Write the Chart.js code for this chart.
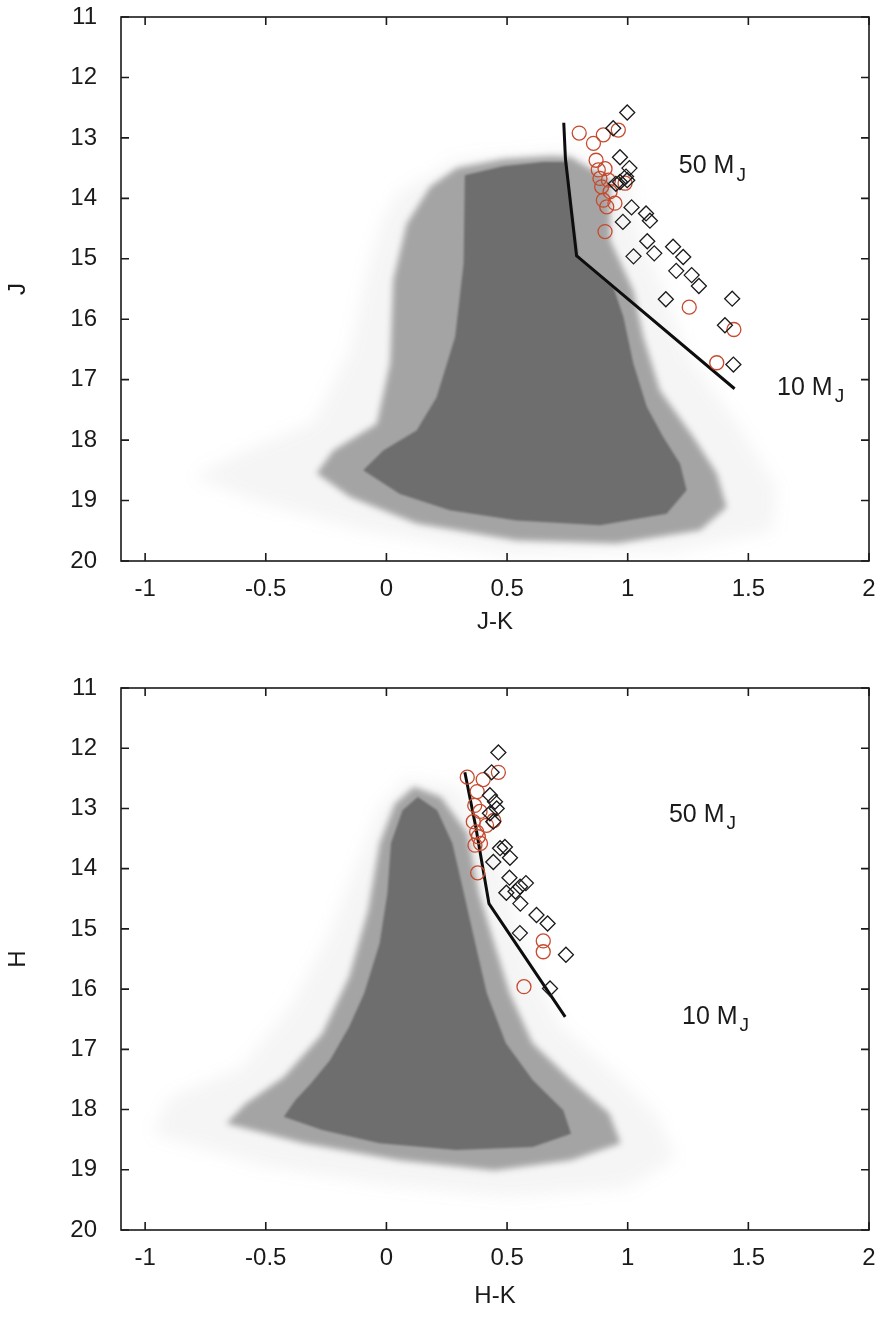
<!DOCTYPE html>
<html>
<head>
<meta charset="utf-8">
<script src="https://cdn.jsdelivr.net/npm/chart.js@4.4.1/dist/chart.umd.min.js"></script>
<style>
  body { margin: 0; background: #fff; }
  #wrap { position: relative; width: 884px; height: 1318px; }
  canvas { position: absolute; left: 0; }
  #cmdJK { top: 0; }
  #cmdHK { top: 655px; }
</style>
</head>
<body>
<div id="wrap">
  <canvas id="cmdJK" width="884" height="655"></canvas>
  <canvas id="cmdHK" width="884" height="663"></canvas>
</div>
<script>
// axis ticks shared by both panels
const xTicks = [-1, -0.5, 0, 0.5, 1, 1.5, 2];
const yTicks = [11, 12, 13, 14, 15, 16, 17, 18, 19, 20];
const massText = ['50', '10'];

// ---- J vs J-K ----
const jkDiamonds = [
  [0.998, 12.58], [0.940, 12.84], [0.968, 13.32], [1.007, 13.50], [0.993, 13.64],
  [0.968, 13.73], [0.951, 13.76], [0.998, 13.70], [1.016, 14.15], [1.076, 14.25],
  [0.980, 14.39], [1.092, 14.37], [1.081, 14.71], [1.024, 14.96], [1.110, 14.91],
  [1.188, 14.80], [1.230, 14.97], [1.201, 15.20], [1.265, 15.27], [1.295, 15.45],
  [1.158, 15.67], [1.433, 15.66], [1.403, 16.10], [1.438, 16.75]
];
const jkCircles = [
  [0.799, 12.92], [0.858, 13.09], [0.899, 12.95], [0.961, 12.87], [0.869, 13.37],
  [0.878, 13.53], [0.906, 13.51], [0.885, 13.67], [0.920, 13.70], [0.892, 13.81],
  [0.927, 13.89], [0.989, 13.75], [0.899, 14.03], [0.947, 14.08], [0.913, 14.14],
  [0.906, 14.55], [1.255, 15.80], [1.440, 16.17], [1.369, 16.72]
];
const jkTrack = [[0.735, 12.75], [0.742, 13.35], [0.788, 14.95], [0.812, 15.03], [1.443, 17.15]];
const jkLabelAt = [[1.212, 13.47], [1.619, 17.14]];

// field population, outlines of the sparse, medium and dense parts
const jkOuter = [
  [0.05, 13.9], [0.3, 13.35], [0.76, 13.2], [1.0, 13.6], [1.05, 14.6], [1.15, 15.5],
  [1.25, 16.6], [1.45, 17.7], [1.62, 18.8], [1.6, 19.5], [1.2, 19.85], [0.5, 19.9],
  [-0.1, 19.5], [-0.55, 19.0], [-0.8, 18.6], [-0.6, 18.2], [-0.3, 17.7], [-0.15, 16.5],
  [-0.08, 15.2], [-0.02, 14.4]
];
const jkHalo = [
  [0.181, 13.81], [0.291, 13.50], [0.484, 13.35], [0.678, 13.30], [0.761, 13.31],
  [0.927, 13.70], [0.927, 14.69], [1.023, 15.52], [1.065, 16.29], [1.134, 17.18],
  [1.272, 17.95], [1.369, 18.55], [1.410, 19.11], [1.300, 19.49], [0.954, 19.71],
  [0.540, 19.66], [0.125, 19.38], [-0.151, 18.94], [-0.289, 18.55], [-0.220, 18.17],
  [-0.040, 17.73], [0.015, 16.73], [0.028, 15.35], [0.084, 14.42]
];
const jkCore = [
  [0.325, 13.62], [0.484, 13.47], [0.650, 13.40], [0.747, 13.40], [0.761, 13.97],
  [0.795, 14.97], [0.940, 15.47], [0.982, 15.96], [1.023, 16.73], [1.079, 17.45],
  [1.147, 17.95], [1.217, 18.39], [1.244, 18.83], [1.161, 19.22], [0.885, 19.41],
  [0.540, 19.33], [0.263, 19.16], [0.056, 18.89], [-0.096, 18.50], [-0.013, 18.17],
  [0.125, 17.84], [0.208, 17.29], [0.285, 16.29], [0.320, 15.08]
];

// ---- H vs H-K ----
const hkDiamonds = [
  [0.464, 12.07], [0.436, 12.40], [0.429, 12.78], [0.450, 12.89], [0.457, 13.00],
  [0.429, 13.08], [0.443, 13.22], [0.471, 13.66], [0.491, 13.64], [0.443, 13.89],
  [0.512, 13.82], [0.510, 14.15], [0.578, 14.24], [0.554, 14.30], [0.497, 14.40],
  [0.535, 14.38], [0.555, 14.58], [0.622, 14.77], [0.668, 14.91], [0.553, 15.07],
  [0.744, 15.43], [0.678, 15.99]
];
const hkCircles = [
  [0.335, 12.48], [0.401, 12.52], [0.464, 12.40], [0.376, 12.72], [0.366, 12.95],
  [0.388, 13.05], [0.360, 13.22], [0.415, 13.28], [0.374, 13.39], [0.445, 13.20],
  [0.381, 13.47], [0.367, 13.61], [0.390, 13.58], [0.378, 14.07], [0.650, 15.20],
  [0.650, 15.38], [0.570, 15.96]
];
const hkTrack = [[0.325, 12.40], [0.370, 13.30], [0.425, 14.58], [0.741, 16.46]];
const hkLabelAt = [[1.171, 13.11], [1.225, 16.46]];

const hkOuter = [
  [0.08, 12.5], [0.3, 12.65], [0.45, 13.6], [0.52, 14.6], [0.6, 15.6], [0.72, 16.6],
  [0.92, 17.3], [1.12, 18.1], [1.2, 18.8], [1.0, 19.3], [0.5, 19.45], [0.0, 19.25],
  [-0.5, 18.95], [-0.97, 18.4], [-0.9, 17.8], [-0.6, 17.3], [-0.4, 16.3], [-0.25, 15.2],
  [-0.13, 14.0], [-0.03, 13.0]
];
const hkHalo = [
  [0.114, 12.64], [0.226, 12.81], [0.336, 13.41], [0.384, 14.41], [0.447, 15.24],
  [0.511, 16.07], [0.606, 16.90], [0.765, 17.51], [0.923, 18.06], [0.971, 18.56],
  [0.765, 18.84], [0.447, 19.01], [0.051, 18.84], [-0.345, 18.56], [-0.663, 18.23],
  [-0.583, 17.90], [-0.425, 17.46], [-0.266, 16.74], [-0.155, 15.80], [-0.076, 14.69],
  [-0.028, 13.58], [0.035, 12.92]
];
const hkCore = [
  [0.130, 12.81], [0.210, 13.03], [0.273, 13.58], [0.321, 14.41], [0.368, 15.24],
  [0.416, 16.07], [0.495, 16.90], [0.606, 17.51], [0.733, 18.01], [0.765, 18.40],
  [0.606, 18.62], [0.289, 18.67], [-0.028, 18.56], [-0.266, 18.34], [-0.425, 18.12],
  [-0.377, 17.84], [-0.314, 17.57], [-0.234, 17.18], [-0.155, 16.63], [-0.092, 16.07],
  [-0.028, 15.24], [0.004, 14.41], [0.019, 13.58], [0.067, 13.03]
];

const FONT = "'Liberation Sans', Arial, Helvetica, sans-serif";
const INK = '#1a1a1a';
const GREY = '110, 110, 110';
Chart.defaults.font.family = FONT;
Chart.defaults.color = INK;

function pts(arr) {
  return arr.map(p => ({ x: p[0], y: p[1] }));
}

// draws the field cloud under the datasets, then the boxed frame with inward ticks and the mass labels
const cmdPlugin = {
  id: 'cmd',
  beforeDatasetsDraw(chart, args, opts) {
    const { ctx, chartArea: a, scales: { x, y } } = chart;
    ctx.save();
    ctx.beginPath();
    ctx.rect(a.left, a.top, a.right - a.left, a.bottom - a.top);
    ctx.clip();
    opts.layers.forEach(layer => {
      ctx.filter = 'blur(' + layer.blur + 'px)';
      ctx.beginPath();
      layer.outline.forEach((p, i) => {
        const px = x.getPixelForValue(p[0]);
        const py = y.getPixelForValue(p[1]);
        if (i) ctx.lineTo(px, py); else ctx.moveTo(px, py);
      });
      ctx.closePath();
      ctx.fillStyle = layer.color;
      ctx.fill();
    });
    ctx.filter = 'none';
    ctx.restore();
  },
  afterDraw(chart, args, opts) {
    const { ctx, chartArea: a, scales: { x, y } } = chart;
    const tl = 8;
    ctx.save();
    ctx.strokeStyle = INK;
    ctx.lineWidth = 1.6;
    ctx.strokeRect(a.left, a.top, a.right - a.left, a.bottom - a.top);
    ctx.beginPath();
    xTicks.forEach(v => {
      const px = x.getPixelForValue(v);
      ctx.moveTo(px, a.bottom); ctx.lineTo(px, a.bottom - tl);
      ctx.moveTo(px, a.top); ctx.lineTo(px, a.top + tl);
    });
    yTicks.forEach(v => {
      const py = y.getPixelForValue(v);
      ctx.moveTo(a.left, py); ctx.lineTo(a.left + tl, py);
      ctx.moveTo(a.right, py); ctx.lineTo(a.right - tl, py);
    });
    ctx.stroke();

    // "50 M_J" / "10 M_J"
    ctx.fillStyle = INK;
    ctx.textBaseline = 'middle';
    opts.labelAt.forEach((p, i) => {
      const px = x.getPixelForValue(p[0]);
      const py = y.getPixelForValue(p[1]);
      ctx.font = '25px ' + FONT;
      const main = massText[i] + ' M';
      ctx.fillText(main, px, py);
      const w = ctx.measureText(main).width;
      ctx.font = '19px ' + FONT;
      ctx.fillText('J', px + w + 2, py + 9);
    });
    ctx.restore();
  }
};

function makeCmd(id, cfg) {
  new Chart(document.getElementById(id), {
    type: 'scatter',
    data: {
      datasets: [
        {
          data: pts(cfg.diamonds),
          pointStyle: 'rectRot',
          pointRadius: 7.5,
          borderColor: INK,
          borderWidth: 1.3,
          backgroundColor: 'rgba(0,0,0,0)'
        },
        {
          data: pts(cfg.circles),
          pointStyle: 'circle',
          pointRadius: 7,
          borderColor: '#c54a2e',
          borderWidth: 1.3,
          backgroundColor: 'rgba(0,0,0,0)'
        },
        {
          data: pts(cfg.track),
          showLine: true,
          pointRadius: 0,
          borderColor: '#0d0d0d',
          borderWidth: 3
        }
      ]
    },
    options: {
      responsive: false,
      animation: false,
      events: [],
      layout: { padding: { top: cfg.padTop, right: 15, left: 0, bottom: 0 } },
      scales: {
        x: {
          type: 'linear',
          min: -1.1,
          max: 2,
          afterBuildTicks: s => { s.ticks = xTicks.map(v => ({ value: v })); },
          afterFit: s => { s.height = cfg.xHeight; s.paddingLeft = 0; s.paddingRight = 0; },
          grid: { display: false, drawTicks: false },
          border: { display: false },
          ticks: {
            font: { size: 24 },
            color: INK,
            padding: 14,
            maxRotation: 0,
            autoSkip: false,
            callback: v => String(v)
          },
          title: {
            display: true,
            text: cfg.xTitle,
            font: { size: 24 },
            color: INK,
            padding: { top: 0, bottom: cfg.titlePad }
          }
        },
        y: {
          type: 'linear',
          reverse: true,
          min: 11,
          max: 20,
          afterBuildTicks: s => { s.ticks = yTicks.map(v => ({ value: v })); },
          afterFit: s => { s.width = 121; s.paddingTop = 0; s.paddingBottom = 0; },
          grid: { display: false, drawTicks: false },
          border: { display: false },
          ticks: {
            font: { size: 24 },
            color: INK,
            padding: 24,
            callback: v => String(v)
          },
          title: {
            display: true,
            text: cfg.yTitle,
            font: { size: 24 },
            color: INK,
            padding: { top: 4, bottom: 0 }
          }
        }
      },
      plugins: {
        legend: { display: false },
        tooltip: { enabled: false },
        cmd: {
          labelAt: cfg.labelAt,
          layers: [
            { outline: cfg.outer, color: 'rgba(' + GREY + ', 0.07)', blur: 8 },
            { outline: cfg.halo, color: 'rgba(' + GREY + ', 0.6)', blur: 3 },
            { outline: cfg.core, color: 'rgb(' + GREY + ')', blur: 1 }
          ]
        }
      }
    },
    plugins: [cmdPlugin]
  });
}

makeCmd('cmdJK', {
  diamonds: jkDiamonds, circles: jkCircles, track: jkTrack, labelAt: jkLabelAt,
  outer: jkOuter, halo: jkHalo, core: jkCore,
  xTitle: 'J-K', yTitle: 'J', padTop: 17, xHeight: 94, titlePad: 18
});

makeCmd('cmdHK', {
  diamonds: hkDiamonds, circles: hkCircles, track: hkTrack, labelAt: hkLabelAt,
  outer: hkOuter, halo: hkHalo, core: hkCore,
  xTitle: 'H-K', yTitle: 'H', padTop: 33, xHeight: 88, titlePad: 7
});
</script>
</body>
</html>
